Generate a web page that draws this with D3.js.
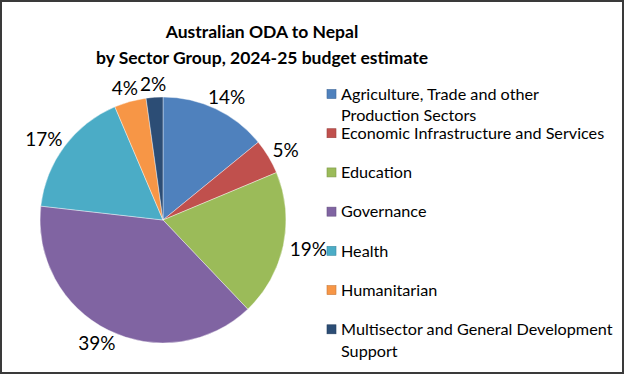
<!DOCTYPE html>
<html>
<head>
<meta charset="UTF-8">
<title>Australian ODA to Nepal</title>
<script src="https://d3js.org/d3.v7.min.js"></script>
<style>
  body { margin: 0; background: #fff; }
  svg { display: block; font-family: Lato, "Open Sans", sans-serif; }
</style>
</head>
<body>
<div id="chart"></div>
<script>
// sector groups and their share of the budget estimate (%)
var sectors = [
  ["Agriculture, Trade and other", "Production Sectors"],
  ["Economic Infrastructure and Services"],
  ["Education"],
  ["Governance"],
  ["Health"],
  ["Humanitarian"],
  ["Multisector and General Development", "Support"]
];
var shares = [14.1, 4.6, 19.2, 38.9, 16.8, 4.2, 2.2];
var colours = ["#4F81BD", "#C0504D", "#9BBB59", "#8064A2", "#4BACC6", "#F79646", "#2C4D75"];
var titleLines = ["Australian ODA to Nepal", "by Sector Group, 2024-25 budget estimate"];

var width = 625, height = 375;
var cx = 163, cy = 220, radius = 123;

var svg = d3.select("#chart").append("svg")
  .attr("width", width)
  .attr("height", height);

// outer frame
svg.append("rect")
  .attr("x", 1).attr("y", 1)
  .attr("width", 622).attr("height", 372)
  .attr("fill", "#fff")
  .attr("stroke", "#3a3a3a")
  .attr("stroke-width", 2);

// title
svg.append("g").selectAll("text")
  .data(titleLines)
  .enter().append("text")
    .attr("x", 262)
    .attr("y", function(d, i) { return 38 + i * 26; })
    .attr("text-anchor", "middle")
    .attr("font-weight", "bold")
    .attr("font-size", "17.5px")
    .attr("fill", "#000")
    .text(function(d) { return d; });

var data = shares.map(function(v, i) { return {name: sectors[i], value: v, colour: colours[i]}; });

var pie = d3.pie().sort(null).value(function(d) { return d.value; });
var arc = d3.arc().innerRadius(0).outerRadius(radius);
var arcs = pie(data);

var g = svg.append("g").attr("transform", "translate(" + cx + "," + cy + ")");

g.selectAll("path")
  .data(arcs)
  .enter().append("path")
    .attr("d", arc)
    .attr("fill", function(d) { return d.data.colour; })
    .attr("stroke", "#fff")
    .attr("stroke-width", 0.4);

// percent labels outside the end of each slice
var gap = 7, halfH = 7;
g.selectAll("text.pct")
  .data(arcs)
  .enter().append("text")
    .attr("class", "pct")
    .attr("font-size", "19px")
    .attr("fill", "#000")
    .attr("text-anchor", "middle")
    .attr("dominant-baseline", "central")
    .text(function(d) { return Math.round(d.data.value) + "%"; })
    .each(function(d) {
      var a = (d.startAngle + d.endAngle) / 2;
      var w = this.getComputedTextLength();
      var x = Math.sin(a) * (radius + gap) + Math.sin(a) * w / 2;
      var y = -Math.cos(a) * (radius + gap) - Math.cos(a) * halfH;
      d3.select(this).attr("x", x).attr("y", y);
    });

// legend
var legY = d3.scalePoint()
  .domain(d3.range(sectors.length))
  .range([94, 329.3]);

var leg = svg.append("g").selectAll("g")
  .data(data)
  .enter().append("g")
    .attr("transform", function(d, i) { return "translate(327," + legY(i) + ")"; });

leg.append("rect")
  .attr("x", 0).attr("y", -4.5)
  .attr("width", 9).attr("height", 9)
  .attr("fill", function(d) { return d.colour; })
  .attr("stroke", function(d) { return d3.color(d.colour).darker(0.6); })
  .attr("stroke-width", 0.6);

leg.append("text")
  .attr("x", 14)
  .attr("font-size", "16.2px")
  .attr("fill", "#000")
  .selectAll("tspan")
  .data(function(d) { return d.name; })
  .enter().append("tspan")
    .attr("x", 14)
    .attr("y", function(d, i) { return i * 21.7; })
    .attr("dy", "0.35em")
    .text(function(d) { return d; });
</script>
</body>
</html>
